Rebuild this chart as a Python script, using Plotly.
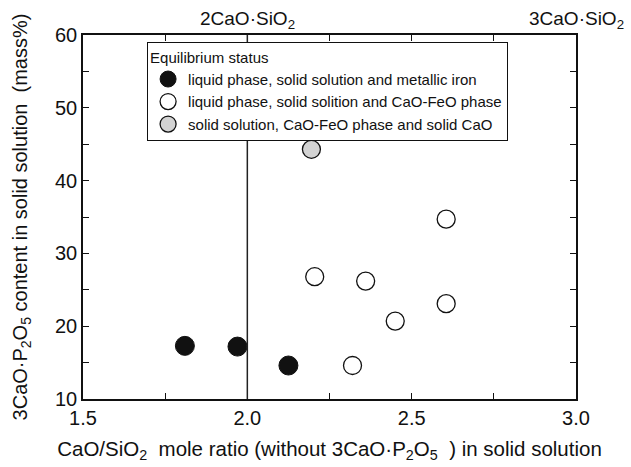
import plotly.graph_objects as go

# data
metal_x = [1.81, 1.97, 2.125]
metal_y = [17.3, 17.2, 14.6]
cafeo_x = [2.205, 2.36, 2.45, 2.605, 2.605, 2.32]
cafeo_y = [26.8, 26.2, 20.7, 23.1, 34.7, 14.6]
cao_x = [2.195]
cao_y = [44.3]
names = ["liquid phase, solid solution and metallic iron",
         "liquid phase, solid solition and CaO-FeO phase",
         "solid solution, CaO-FeO phase and solid CaO"]
top_labels = ["2CaO·SiO<sub>2</sub>", "3CaO·SiO<sub>2</sub>"]
top_pos = [2.0, 3.0]

FONT = "Liberation Sans, Arial, sans-serif"
fig = go.Figure()
fig.add_trace(go.Scatter(x=metal_x, y=metal_y, mode="markers", name=names[0],
                         marker=dict(size=19, color="#111111", line=dict(color="#111111", width=1))))
fig.add_trace(go.Scatter(x=cafeo_x, y=cafeo_y, mode="markers", name=names[1],
                         marker=dict(size=18, color="white", line=dict(color="#111111", width=1.3))))
fig.add_trace(go.Scatter(x=cao_x, y=cao_y, mode="markers", name=names[2],
                         marker=dict(size=18, color="#d3d3d3", line=dict(color="#111111", width=1.3))))

fig.add_shape(type="line", xref="x", yref="paper", x0=2.0, x1=2.0, y0=0, y1=1,
              line=dict(color="#222222", width=1.5))
for lab, pos in zip(top_labels, top_pos):
    fig.add_annotation(x=pos, y=1, xref="x", yref="paper", yanchor="bottom", text=lab,
                       showarrow=False, font=dict(size=19, color="#111111", family=FONT), yshift=1)

axis_common = dict(showline=True, linecolor="#111111", linewidth=1.5, mirror="allticks",
                   ticks="inside", ticklen=6, tickwidth=1.2, tickcolor="#111111",
                   showgrid=False, zeroline=False, automargin=False,
                   tickfont=dict(size=20, color="#111111", family=FONT))
fig.update_xaxes(range=[1.5, 3.0], dtick=0.5, tickformat=".1f",
                 minor=dict(dtick=0.25, ticks="inside", ticklen=6, tickcolor="#111111"),
                 title=dict(text="CaO/SiO<sub>2</sub>\u00a0 mole ratio (without 3CaO·P<sub>2</sub>O<sub>5</sub>\u00a0 ) in solid solution",
                            font=dict(size=20.5, color="#111111", family=FONT), standoff=14),
                 **axis_common)
fig.update_yaxes(range=[10, 60], dtick=10,
                 minor=dict(dtick=5, ticks="inside", ticklen=6, tickcolor="#111111"),
                 title=dict(text="3CaO·P<sub>2</sub>O<sub>5</sub> content in solid solution  (mass%)",
                            font=dict(size=20, color="#111111", family=FONT), standoff=22),
                 **axis_common)
fig.update_layout(width=631, height=467, margin=dict(l=83, r=55, t=35, b=68),
                  plot_bgcolor="white", paper_bgcolor="white",
                  font=dict(family=FONT, color="#111111"),
                  legend=dict(x=0.13, y=0.98, xanchor="left", yanchor="top",
                              bordercolor="#111111", borderwidth=1, bgcolor="white",
                              title=dict(text="Equilibrium status", font=dict(size=15)),
                              font=dict(size=15), tracegroupgap=0, itemwidth=30))
fig.write_html("out.html", config={"displayModeBar": False},
               post_script="document.body.style.margin='0';")
